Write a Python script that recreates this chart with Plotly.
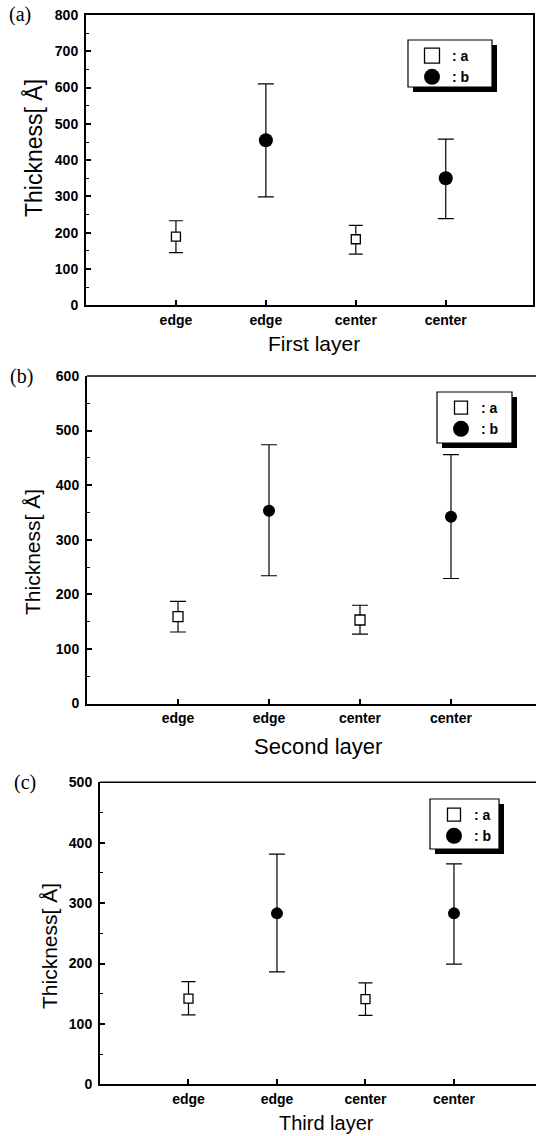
import plotly.graph_objects as go

# ---------------- data ----------------
tick_positions = [1, 2, 3, 4]
tick_labels = ["edge", "edge", "center", "center"]
a_positions = [1, 3]
b_positions = [2, 4]

panel_labels = ["(a)", "(b)", "(c)"]
x_titles = ["First layer", "Second layer", "Third layer"]
y_title = "Thickness[ Å]"
y_max = [800, 600, 500]
legend_names = [": a", ": b"]

# First layer
first_a = [189, 182]
first_a_plus = [44, 38]
first_a_minus = [44, 41]
first_b = [455, 350]
first_b_plus = [155, 108]
first_b_minus = [156, 111]

# Second layer
second_a = [159, 153]
second_a_plus = [28, 27]
second_a_minus = [28, 26]
second_b = [353, 342]
second_b_plus = [121, 114]
second_b_minus = [119, 113]

# Third layer
third_a = [142, 141]
third_a_plus = [28, 27]
third_a_minus = [27, 27]
third_b = [283, 283]
third_b_plus = [98, 82]
third_b_minus = [97, 84]

# ---------------- layout geometry (pixels) ----------------
W, H = 536, 1136


def fx(p):
    return p / W


def fy(p):
    return 1 - p / H


panels = [
    dict(a=(first_a, first_a_plus, first_a_minus),
         b=(first_b, first_b_plus, first_b_minus),
         left=86, right=533, top=15, bottom=305.3, xmax=4.97, mirror=True,
         sq=9, circ=14, capa=7, capb=8,
         lab=(20, 15), ytit=(34, 148, 23), xtit=(314, 343, 21),
         box=(408, 40, 492, 87), lsq=15, lci=17),
    dict(a=(second_a, second_a_plus, second_a_minus),
         b=(second_b, second_b_plus, second_b_minus),
         left=87, right=536, top=376, bottom=703.5, xmax=4.934, mirror=False,
         sq=10, circ=12, capa=8, capb=8,
         lab=(21, 376), ytit=(32, 552, 21), xtit=(318, 746, 22),
         box=(437, 392, 512, 443), lsq=13, lci=16),
    dict(a=(third_a, third_a_plus, third_a_minus),
         b=(third_b, third_b_plus, third_b_minus),
         left=100, right=536, top=782.3, bottom=1084.3, xmax=4.927, mirror=False,
         sq=9, circ=12, capa=7, capb=8,
         lab=(25, 782), ytit=(50, 946, 21), xtit=(326, 1123, 20),
         box=(430, 799, 499, 849), lsq=13, lci=16),
]

fig = go.Figure()
annotations = []
shapes = []
layout = dict(
    width=W, height=H, template="none",
    margin=dict(l=0, r=0, t=0, b=0, pad=0),
    paper_bgcolor="white", plot_bgcolor="white",
    showlegend=True,
)

tickfont = dict(family="Liberation Sans, Arial, sans-serif", size=14, color="black", weight="bold")

for i, p in enumerate(panels):
    n = "" if i == 0 else str(i + 1)
    xa, ya = "x" + n, "y" + n
    leg = "legend" + n

    am, ap, amn = p["a"]
    bm, bp, bmn = p["b"]

    fig.add_trace(go.Scatter(
        x=a_positions, y=am, xaxis=xa, yaxis=ya, mode="markers", showlegend=False,
        marker=dict(symbol="square", size=p["sq"], color="white", line=dict(color="black", width=1.3)),
        error_y=dict(type="data", symmetric=False, array=ap, arrayminus=amn,
                     color="black", thickness=1.2, width=p["capa"]),
    ))
    fig.add_trace(go.Scatter(
        x=b_positions, y=bm, xaxis=xa, yaxis=ya, mode="markers", showlegend=False,
        marker=dict(symbol="circle", size=p["circ"], color="black", line=dict(width=0)),
        error_y=dict(type="data", symmetric=False, array=bp, arrayminus=bmn,
                     color="black", thickness=1.2, width=p["capb"]),
    ))
    # legend entries
    fig.add_trace(go.Scatter(
        x=[None], y=[None], xaxis=xa, yaxis=ya, mode="markers", name=legend_names[0], legend=leg,
        marker=dict(symbol="square", size=p["lsq"], color="white", line=dict(color="black", width=1.3)),
    ))
    fig.add_trace(go.Scatter(
        x=[None], y=[None], xaxis=xa, yaxis=ya, mode="markers", name=legend_names[1], legend=leg,
        marker=dict(symbol="circle", size=p["lci"], color="black", line=dict(width=0)),
    ))

    layout["xaxis" + n] = dict(
        domain=[fx(p["left"]), fx(p["right"])], anchor=ya, range=[0, p["xmax"]],
        tickmode="array", tickvals=tick_positions, ticktext=tick_labels,
        ticks="inside", ticklen=5, tickwidth=1.5, tickcolor="black",
        showline=True, linewidth=2, linecolor="black", mirror=p["mirror"],
        showgrid=False, zeroline=False, tickfont=tickfont, ticklabelstandoff=1,
    )
    layout["yaxis" + n] = dict(
        domain=[fy(p["bottom"]), fy(p["top"])], anchor=xa, range=[0, y_max[i]],
        tickmode="linear", tick0=0, dtick=100,
        ticks="inside", ticklen=5, tickwidth=1.5, tickcolor="black",
        minor=dict(ticks="inside", ticklen=3, tickwidth=1, tickcolor="black", dtick=50, showgrid=False),
        showline=True, linewidth=2, linecolor="black", mirror=p["mirror"],
        showgrid=False, zeroline=False, tickfont=tickfont, ticklabelstandoff=3,
    )

    if not p["mirror"]:
        shapes.append(dict(type="line", xref=xa + " domain", yref=ya + " domain",
                           x0=0, x1=1, y0=1, y1=1, line=dict(color="black", width=1.5)))

    bx0, by0, bx1, by1 = p["box"]
    shapes.append(dict(type="rect", xref="paper", yref="paper", layer="above",
                       x0=fx(bx0 + 5), x1=fx(bx1 + 5), y0=fy(by1 + 5), y1=fy(by0 + 5),
                       fillcolor="black", line=dict(width=0)))
    shapes.append(dict(type="rect", xref="paper", yref="paper", layer="above",
                       x0=fx(bx0), x1=fx(bx1), y0=fy(by1), y1=fy(by0),
                       fillcolor="white", line=dict(color="black", width=1.2)))

    layout[leg] = dict(
        x=fx(bx0 + 4), y=fy(by0), xanchor="left", yanchor="top",
        bgcolor="rgba(0,0,0,0)", borderwidth=0, itemsizing="trace",
        tracegroupgap=0,
        font=dict(family="Liberation Sans, Arial, sans-serif", size=14, color="black", weight="bold"),
    )

    lx, ly = p["lab"]
    annotations.append(dict(text=panel_labels[i], xref="paper", yref="paper", x=fx(lx), y=fy(ly),
                            xanchor="center", yanchor="middle", showarrow=False,
                            font=dict(family="Liberation Serif, Times New Roman, serif", size=20, color="black")))
    tx, ty, ts = p["ytit"]
    annotations.append(dict(text=y_title, xref="paper", yref="paper", x=fx(tx), y=fy(ty),
                            xanchor="center", yanchor="middle", textangle=-90, showarrow=False,
                            font=dict(family="Liberation Sans, Arial, sans-serif", size=ts, color="black")))
    gx, gy, gs = p["xtit"]
    annotations.append(dict(text=x_titles[i], xref="paper", yref="paper", x=fx(gx), y=fy(gy),
                            xanchor="center", yanchor="middle", showarrow=False,
                            font=dict(family="Liberation Sans, Arial, sans-serif", size=gs, color="black")))

layout["annotations"] = annotations
layout["shapes"] = shapes
fig.update_layout(**layout)

fig.write_html("out.html", config={"displayModeBar": False},
               post_script="document.body.style.margin='0';document.body.style.overflow='hidden';")
